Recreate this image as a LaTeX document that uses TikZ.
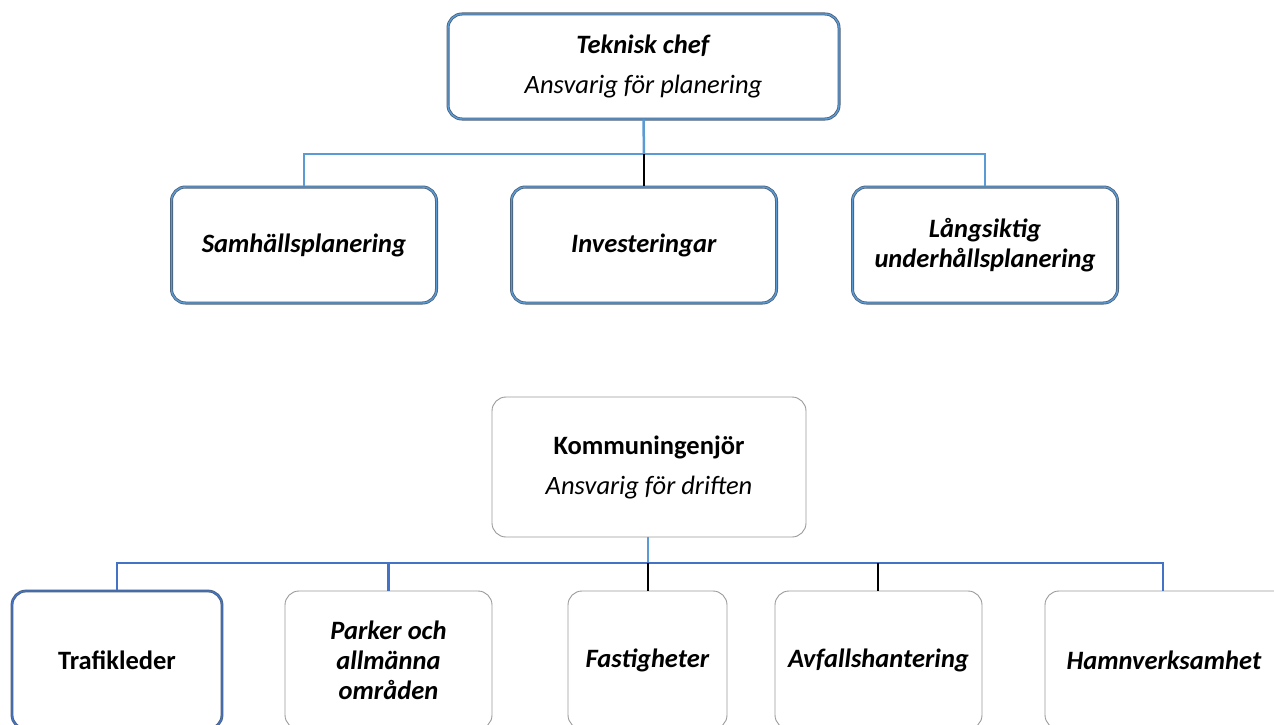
\documentclass[tikz,border=0pt]{standalone}
\usepackage{fontspec}
\setmainfont{Carlito}
\definecolor{lblue}{HTML}{5B9BD5}
\definecolor{mblue}{HTML}{4472C4}
\definecolor{oedge}{HTML}{4A6078}
\definecolor{gedge}{HTML}{9A9A9A}
\begin{document}
\begin{tikzpicture}[x=1pt,y=-1pt,
  txt/.style={font=\fontsize{26.5}{30}\selectfont, align=center},
  bluebox/.style={txt, rounded corners=14pt, inner sep=0pt,
    preaction={draw=oedge, line width=3pt},
    draw=lblue, line width=1.4pt},
  navybox/.style={txt, rounded corners=14pt, inner sep=0pt,
    preaction={draw=oedge, line width=2.8pt},
    draw=mblue, line width=1.4pt},
  greybox/.style={txt, rounded corners=14pt, inner sep=0pt,
    draw=gedge, line width=0.9pt},
  bline/.style={draw=lblue, line width=2.5pt},
  mline/.style={draw=mblue, line width=2.5pt},
  kline/.style={draw=black, line width=2.5pt}]
\useasboundingbox (0,0) rectangle (1274,725);
\clip (0,0) rectangle (1274,725);
\fill[white] (0,0) rectangle (1274,725);

% top tree
\node[bluebox, minimum width=391pt, minimum height=105pt] (tc) at (643.5,66.5)
  {\textbf{\textit{Teknisk chef}}\\[10pt]\textit{Ansvarig för planering}};
\node[bluebox, minimum width=265pt, minimum height=116pt] (sp) at (304,245)
  {\textbf{\textit{Samhällsplanering}}};
\node[bluebox, minimum width=265pt, minimum height=116pt] (inv) at (644,245)
  {\textbf{\textit{Investeringar}}};
\node[bluebox, minimum width=265pt, minimum height=116pt] (lu) at (985,245)
  {\textbf{\textit{Långsiktig}}\\\textbf{\textit{underhållsplanering}}};

\coordinate (tj) at (644,154);
\draw[bline] (tc.south) -- (tj);
\draw[bline] (sp.north) |- (tj) -| (lu.north);
\draw[kline] (tj) -- (inv.north);

% bottom tree
\node[greybox, minimum width=314pt, minimum height=140pt] (ki) at (649,467)
  {\textbf{Kommuningenjör}\\[10pt]\textit{Ansvarig för driften}};
\node[navybox, minimum width=210pt, minimum height=138pt] (tr) at (117,660)
  {\textbf{Trafikleder}};
\node[greybox, minimum width=207pt, minimum height=138pt] (pa) at (388.5,660)
  {\textbf{\textit{Parker och}}\\\textbf{\textit{allmänna}}\\\textbf{\textit{områden}}};
\node[greybox, minimum width=159pt, minimum height=138pt] (fa) at (647.5,660)
  {\textbf{\textit{Fastigheter}}};
\node[greybox, minimum width=207pt, minimum height=138pt] (av) at (878.5,660)
  {\textbf{\textit{Avfallshantering}}};
\node[greybox, minimum width=260pt, minimum height=138pt] (ha) at (1175,660)
  {\hspace*{-22pt}\textbf{\textit{Hamnverksamhet}}};

\coordinate (bj) at (648,563);
\coordinate (bm) at (878,563);
\draw[bline] (ki.south -| bj) -- (bj);
\draw[mline] (tr.north) |- (bj);
\draw[mline] (pa.north) -- (pa.north |- bj);
\draw[mline] (bj) -- (bm);
\draw[mline] (bm) -| (ha.north -| 1163,0);
\draw[kline] (bj) -- (fa.north -| bj);
\draw[kline] (bm) -- (av.north -| bm);
\end{tikzpicture}
\end{document}
